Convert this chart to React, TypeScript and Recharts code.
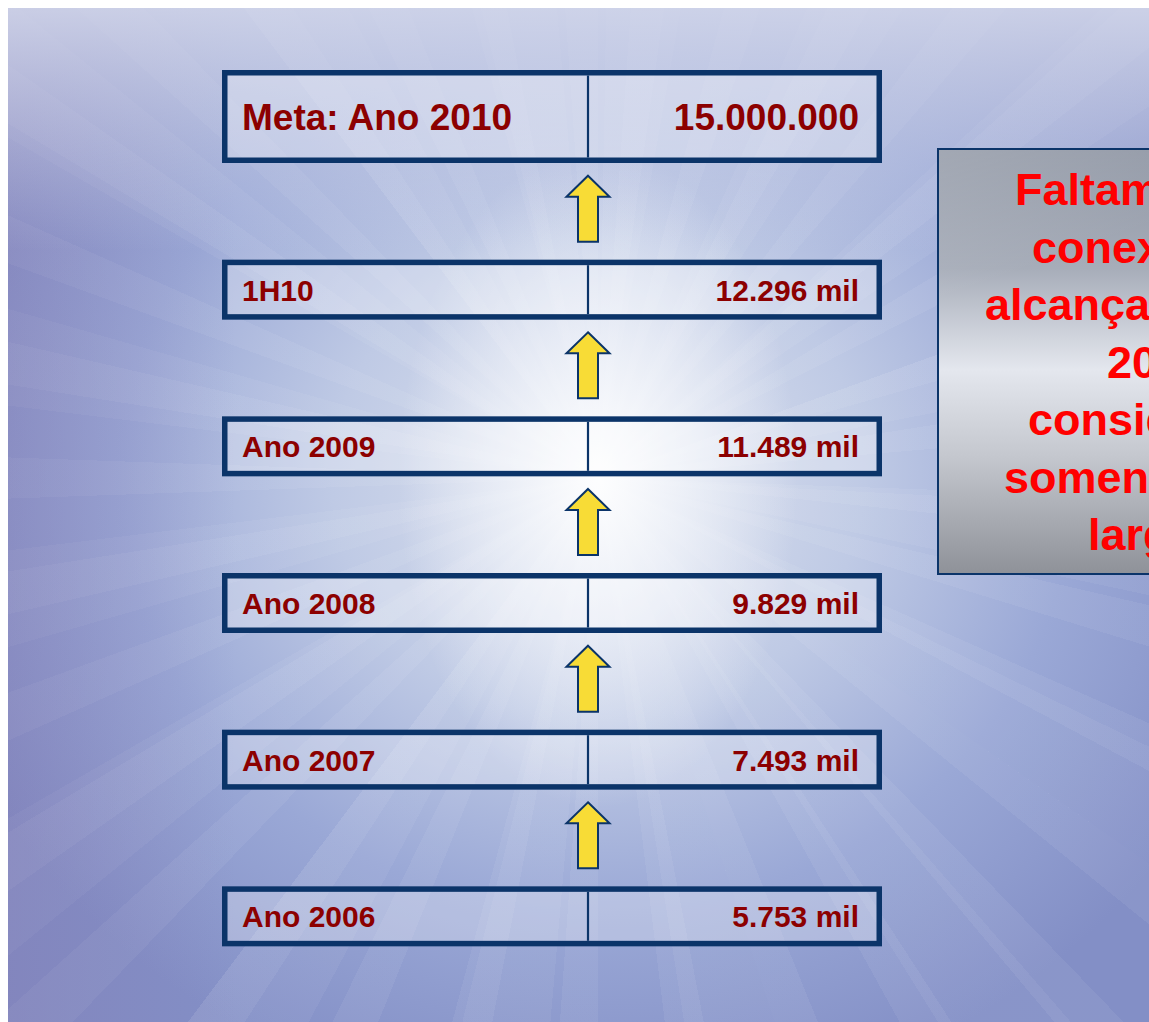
import { Bar, BarChart, XAxis, YAxis } from "recharts";

// rows, top to bottom
const rowLabels = ["Meta: Ano 2010", "1H10", "Ano 2009", "Ano 2008", "Ano 2007", "Ano 2006"];
// connections, in thousands
const connections = [15000, 12296, 11489, 9829, 7493, 5753];

const calloutLines = ["Faltam", "conexões", "alcançar", "2010", "considerando", "somente", "larga"];

const data = rowLabels.map((label, i) => ({ label, value: connections[i] }));

const W = 1141;
const H = 1014;
const BOX_W = 660;
const NAVY = "#0b3469";
const DARK_RED = "#8c0000";
const FONT = "'Liberation Sans', Arial, Helvetica, sans-serif";

function dots(n: number) {
  return String(n).replace(/\B(?=(\d{3})+(?!\d))/g, ".");
}

function RowBox(props: any) {
  const { index, payload } = props;
  const bg = props.background;
  const left = bg?.x ?? props.x;
  const width = bg?.width ?? BOX_W;
  const bandY = bg?.y ?? props.y;
  const bandH = bg?.height ?? props.height;
  const goal = index === 0;

  const bottom = bandY + bandH - 20;
  const top = bottom - (goal ? 93 : 60);
  const cy = (top + bottom) / 2;
  const mid = left + 366;
  const sw = 5.5;
  const fs = goal ? 37 : 30;
  const valueText = goal ? dots(payload.value * 1000) : `${dots(payload.value)} mil`;

  // upward arrow from this box towards the one above
  const tip = top - 84;
  const head = top - 63;
  const tail = top - 18;
  const arrow = [
    [mid, tip],
    [mid + 21.5, head],
    [mid + 10, head],
    [mid + 10, tail],
    [mid - 10, tail],
    [mid - 10, head],
    [mid - 21.5, head],
  ]
    .map((p) => p.join(","))
    .join(" ");

  return (
    <g>
      {!goal && <polygon points={arrow} fill="#f8dc36" stroke={NAVY} strokeWidth={2} />}
      <rect
        x={left + sw / 2}
        y={top + sw / 2}
        width={width - sw}
        height={bottom - top - sw}
        fill="rgba(255,255,255,0.28)"
        stroke={NAVY}
        strokeWidth={sw}
      />
      <line x1={mid} x2={mid} y1={top + sw} y2={bottom - sw} stroke={NAVY} strokeWidth={2.2} />
      <text
        x={left + 20}
        y={cy + (goal ? 13 : 11)}
        fontSize={fs}
        fontWeight="bold"
        fontFamily={FONT}
        fill={DARK_RED}
      >
        {payload.label}
      </text>
      <text
        x={left + width - 23}
        y={cy + (goal ? 13 : 11)}
        fontSize={fs}
        fontWeight="bold"
        fontFamily={FONT}
        fill={DARK_RED}
        textAnchor="end"
      >
        {valueText}
      </text>
    </g>
  );
}

const calloutX = [76, 93, 46, 168, 89, 65, 149];

function Callout() {
  return (
    <div
      style={{
        position: "absolute",
        left: 929,
        top: 140,
        width: 240,
        height: 427,
        boxSizing: "border-box",
        border: `2px solid ${NAVY}`,
        background:
          "linear-gradient(160deg, rgba(255,255,255,0.18) 0%, rgba(255,255,255,0) 30%), linear-gradient(180deg, #8e95a3 0%, #a7adb9 28%, #e4e7ee 52%, #c5c8cf 72%, #8f9299 100%)",
        fontFamily: FONT,
        fontWeight: "bold",
        fontSize: 45,
        color: "#ff0000",
        overflow: "hidden",
      }}
    >
      {calloutLines.map((line, i) => (
        <span
          key={line}
          style={{
            position: "absolute",
            left: calloutX[i],
            top: 15 + i * 57.5,
            whiteSpace: "nowrap",
            lineHeight: "50px",
          }}
        >
          {line}
        </span>
      ))}
    </div>
  );
}

const BG = [
  "linear-gradient(180deg, rgba(214,218,236,0.85) 0%, rgba(214,218,236,0) 24%)",
  "linear-gradient(90deg, rgba(130,112,170,0.3) 0%, rgba(130,112,170,0) 20%)",
  "radial-gradient(ellipse 200px 330px at 590px 470px, rgba(255,255,255,0.95) 0%, rgba(246,248,252,0.65) 45%, rgba(255,255,255,0) 100%)",
  "repeating-conic-gradient(from 4deg at 590px 470px, rgba(255,255,255,0.06) 0deg 4deg, rgba(255,255,255,0) 4deg 11deg)",
  "repeating-conic-gradient(from 1deg at 590px 470px, rgba(255,255,255,0.05) 0deg 9deg, rgba(255,255,255,0) 9deg 23deg)",
  "radial-gradient(ellipse 700px 640px at 590px 470px, #e0e5f0 0%, #bfcae5 38%, #9aa8d6 68%, #838fc6 100%)",
].join(",");

export default function App() {
  return (
    <div style={{ width: W + 8, padding: "8px 0 0 8px", boxSizing: "border-box" }}>
      <style>{"body{margin:0}"}</style>
      <div
        style={{
          position: "relative",
          width: W,
          height: H,
          overflow: "hidden",
          background: BG,
        }}
      >
        <BarChart
          layout="vertical"
          width={W}
          height={H}
          data={data}
          margin={{ top: 18, right: W - 214 - BOX_W, bottom: 56, left: 214 }}
          barCategoryGap={0}
          style={{ position: "absolute", left: 0, top: 0 }}
        >
          <XAxis type="number" hide domain={[0, 15000]} />
          <YAxis type="category" dataKey="label" hide />
          <Bar dataKey="value" isAnimationActive={false} shape={<RowBox />} />
        </BarChart>
        <Callout />
      </div>
    </div>
  );
}
